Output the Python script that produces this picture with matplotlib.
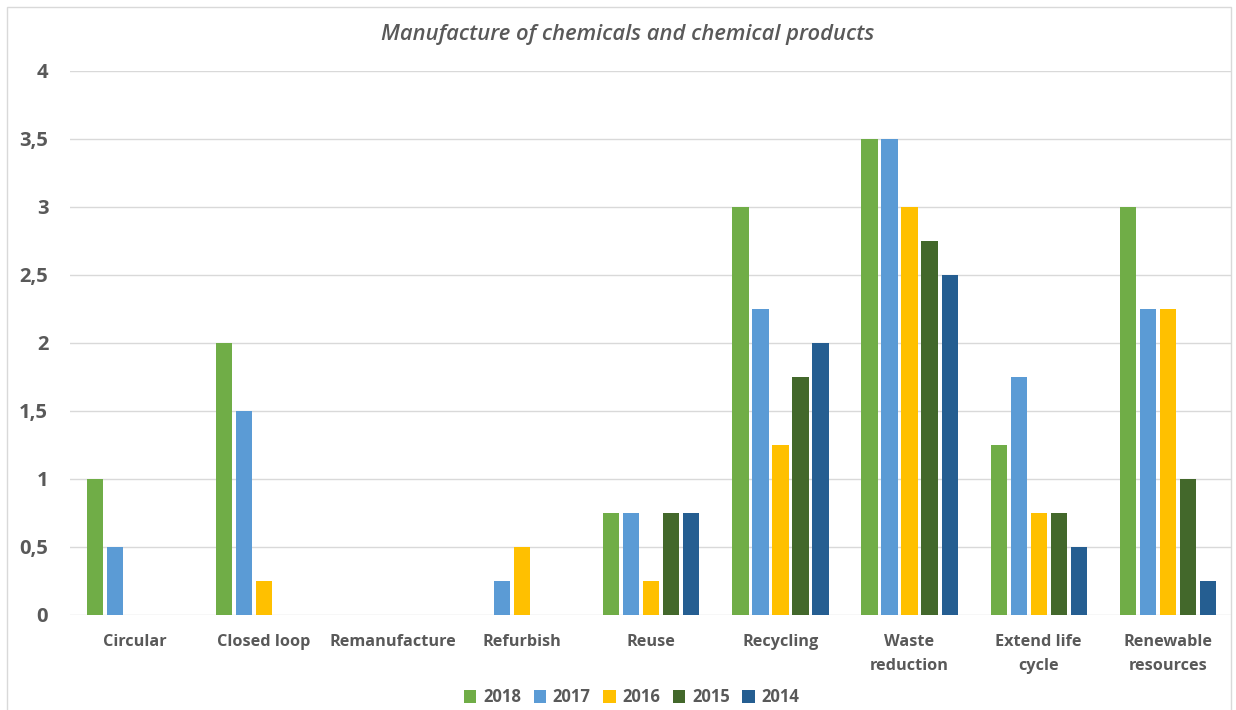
import numpy as np
import matplotlib.pyplot as plt
from matplotlib.patches import Rectangle
from matplotlib.ticker import FuncFormatter

categories = ["Circular", "Closed loop", "Remanufacture", "Refurbish", "Reuse",
              "Recycling", "Waste\nreduction", "Extend life\ncycle", "Renewable\nresources"]
years = ["2018", "2017", "2016", "2015", "2014"]

v2018 = [1, 2, 0, 0, 0.75, 3, 3.5, 1.25, 3]
v2017 = [0.5, 1.5, 0, 0.25, 0.75, 2.25, 3.5, 1.75, 2.25]
v2016 = [0, 0.25, 0, 0.5, 0.25, 1.25, 3, 0.75, 2.25]
v2015 = [0, 0, 0, 0, 0.75, 1.75, 2.75, 0.75, 1]
v2014 = [0, 0, 0, 0, 0.75, 2, 2.5, 0.5, 0.25]

colors = ["#70AD47", "#5B9BD5", "#FFC000", "#43682B", "#255E91"]
txt = "#595959"

plt.rcParams['font.family'] = ['Open Sans', 'DejaVu Sans']

fig = plt.figure(figsize=(12.36, 7.1), dpi=100)
ax = fig.add_axes([0.057, 0.134, 0.94, 0.766])

x = np.arange(len(categories))
step = 0.155
width = 0.125
series = [v2018, v2017, v2016, v2015, v2014]
for i, (vals, yr) in enumerate(zip(series, years)):
    ax.bar(x + (i - 2) * step, vals, width, color=colors[i], label=yr, zorder=3)

ax.set_xlim(-0.5, len(categories) - 0.5)
ax.set_ylim(0, 4)
ax.set_yticks(np.arange(0, 4.01, 0.5))
ax.yaxis.set_major_formatter(FuncFormatter(lambda v, p: f"{v:g}".replace(".", ",")))
ax.grid(axis="y", color="#D9D9D9", linewidth=1, zorder=0)
for s in ax.spines.values():
    s.set_visible(False)
ax.tick_params(axis="both", length=0)
ax.tick_params(axis="y", pad=16, labelsize=14.5, labelcolor=txt)
ax.tick_params(axis="x", pad=14, labelsize=11.7, labelcolor=txt)
ax.set_xticks(x)
ax.set_xticklabels(categories, fontweight="bold", linespacing=1.65)
for lab in ax.get_yticklabels():
    lab.set_fontweight("bold")

fig.text(0.508, 0.952, "Manufacture of chemicals and chemical products",
         ha="center", va="center", fontsize=15.8, style="italic",
         fontweight="semibold", color=txt)

leg = fig.legend(loc="center", bbox_to_anchor=(0.511, 0.018), ncol=5, frameon=False,
                 handlelength=0.75, handleheight=0.75, handletextpad=0.4,
                 columnspacing=0.75, prop={"size": 12, "weight": "bold"})
for t in leg.get_texts():
    t.set_color(txt)

fig.patches.append(Rectangle((0.006, -0.01), 0.99, 1.0, transform=fig.transFigure,
                             fill=False, edgecolor="#D9D9D9", linewidth=1))

fig.savefig("out.png", dpi=100)
